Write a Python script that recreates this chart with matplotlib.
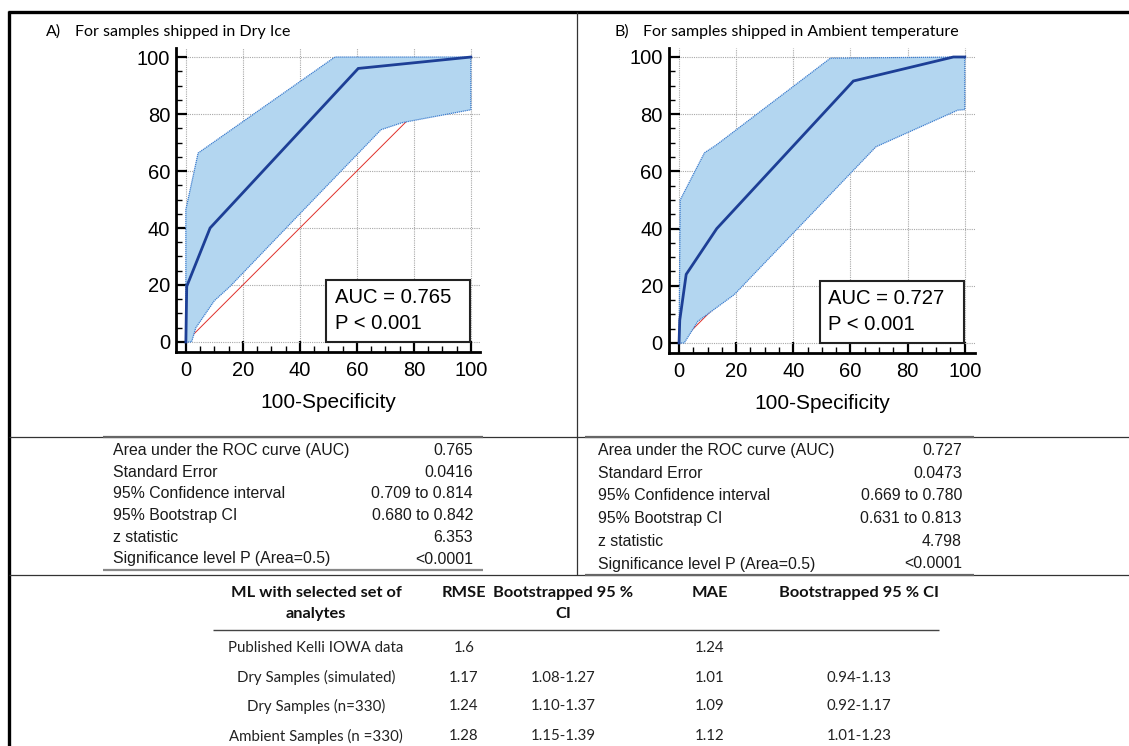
import matplotlib
matplotlib.use("Agg")
import matplotlib.pyplot as plt
from matplotlib.lines import Line2D
from matplotlib.patches import Rectangle
import numpy as np

W, H = 1129, 746

# ---------------- data ----------------
roc_a_x = [0, 0.3, 8.5, 60.5, 100]
roc_a_y = [0, 19.5, 40, 96, 100]
upper_a_x = [0, 0, 4.3, 11, 52.3, 100]
upper_a_y = [0, 46.5, 66.3, 71, 100, 100]
lower_a_x = [0, 2, 3.5, 10, 15.3, 40, 68.5, 76, 100, 100]
lower_a_y = [0, 0, 5, 14.5, 19.3, 45, 74.5, 77, 81.5, 100]

roc_b_x = [0, 0.25, 2.5, 13.2, 61, 96, 100]
roc_b_y = [0, 8, 24, 40, 91.6, 100, 100]
upper_b_x = [0, 0.4, 8.9, 13, 53, 100]
upper_b_y = [0, 50, 66.5, 69.2, 99.6, 100]
lower_b_x = [0, 1.8, 6.6, 19.3, 68.9, 97.5, 100, 100]
lower_b_y = [0, 0, 7.6, 16.9, 68.6, 81.4, 81.6, 100]

auc_a = "0.765"
auc_b = "0.727"
p_text = "P < 0.001"
titles = ["For samples shipped in Dry Ice", "For samples shipped in Ambient temperature"]
panel_tags = ["A)", "B)"]

stat_labels = ["Area under the ROC curve (AUC)", "Standard Error", "95% Confidence interval",
               "95% Bootstrap CI", "z statistic", "Significance level P (Area=0.5)"]
stat_vals_a = ["0.765", "0.0416", "0.709 to 0.814", "0.680 to 0.842", "6.353", "<0.0001"]
stat_vals_b = ["0.727", "0.0473", "0.669 to 0.780", "0.631 to 0.813", "4.798", "<0.0001"]

tbl_header = ["ML with selected set of\nanalytes", "RMSE", "Bootstrapped 95 %\nCI", "MAE", "Bootstrapped 95 % CI"]
tbl_rows = ["Published Kelli IOWA data", "Dry Samples (simulated)", "Dry Samples (n=330)", "Ambient Samples (n =330)"]
tbl_rmse = ["1.6", "1.17", "1.24", "1.28"]
tbl_rmse_ci = ["", "1.08-1.27", "1.10-1.37", "1.15-1.39"]
tbl_mae = ["1.24", "1.01", "1.09", "1.12"]
tbl_mae_ci = ["", "0.94-1.13", "0.92-1.17", "1.01-1.23"]

# ---------------- styles ----------------
FILL = "#b3d6f0"
EDGE = "#3f7fcf"
ROC = "#1d3f96"
DIAG = "#e0302a"
SANS = "Liberation Sans"
CAL = "Lato"

fig = plt.figure(figsize=(W / 100, H / 100), dpi=100)
fig.patch.set_facecolor("white")


def fx(x):
    return x / W


def fy(y):
    return 1 - y / H


def hline(y, x0, x1, lw=1.0, color="black"):
    fig.add_artist(Line2D([fx(x0), fx(x1)], [fy(y), fy(y)], lw=lw, color=color,
                          transform=fig.transFigure, solid_capstyle="butt"))


def vline(x, y0, y1, lw=1.0, color="black"):
    fig.add_artist(Line2D([fx(x), fx(x)], [fy(y0), fy(y1)], lw=lw, color=color,
                          transform=fig.transFigure, solid_capstyle="butt"))


def txt(x, y, s, **kw):
    fig.text(fx(x), fy(y), s, transform=fig.transFigure, **kw)


def roc_panel(rect, xlim, ylim, rx, ry, ux, uy, lx, ly, auc):
    ax = fig.add_axes(rect)
    ax.set_xlim(*xlim)
    ax.set_ylim(*ylim)
    for s in ["top", "right"]:
        ax.spines[s].set_visible(False)
    for s in ["left", "bottom"]:
        ax.spines[s].set_linewidth(2.0)
    ax.set_xticks(np.arange(0, 101, 20))
    ax.set_yticks(np.arange(0, 101, 20))
    ax.set_xticks(np.arange(0, 101, 5), minor=True)
    ax.set_yticks(np.arange(0, 101, 5), minor=True)
    ax.tick_params(which="major", direction="in", length=8, width=1.6, labelsize=14.5)
    ax.tick_params(axis="y", which="major", pad=4.5)
    ax.tick_params(axis="x", which="major", pad=7)
    ax.tick_params(which="minor", direction="in", length=4, width=1.0)
    for lab in ax.get_xticklabels() + ax.get_yticklabels():
        lab.set_fontfamily(SANS)
    ax.grid(True, which="major", color="#a8a8a8", linestyle=(0, (1, 1)), linewidth=0.8)
    ax.set_axisbelow(True)
    # diagonal reference line under the band
    ax.plot([0, 100], [0, 100], color=DIAG, lw=0.7, zorder=2)
    px = list(ux) + list(lx[::-1])
    py = list(uy) + list(ly[::-1])
    ax.fill(px, py, facecolor=FILL, edgecolor="none", zorder=3)
    ax.plot(ux, uy, color=EDGE, lw=0.9, ls=(0, (1, 0.6)), zorder=4)
    ax.plot(lx, ly, color=EDGE, lw=0.9, ls=(0, (1, 0.6)), zorder=4)
    ax.plot(rx, ry, color=ROC, lw=2.0, zorder=5, solid_joinstyle="miter")
    ax.set_xlabel("100-Specificity", fontsize=15, fontfamily=SANS, labelpad=9)
    ax.add_patch(Rectangle((49.2, 0.1), 50.6, 21.7, facecolor="white", edgecolor="#222222",
                           lw=1.5, zorder=6))
    ax.text(52.2, 15.5, "AUC = " + auc, fontsize=14.6, fontfamily=SANS, va="center", ha="left", zorder=7)
    ax.text(52.2, 6.6, p_text, fontsize=14.6, fontfamily=SANS, va="center", ha="left", zorder=7)
    return ax


roc_panel([0.1563, 0.5286, 0.2688, 0.4064], (-3.3, 103.2), (-3.4, 103.0),
          roc_a_x, roc_a_y, upper_a_x, upper_a_y, lower_a_x, lower_a_y, auc_a)
roc_panel([0.5926, 0.5272, 0.2708, 0.4079], (-3.5, 103.5), (-3.4, 103.0),
          roc_b_x, roc_b_y, upper_b_x, upper_b_y, lower_b_x, lower_b_y, auc_b)

# titles
txt(46, 32, panel_tags[0], fontsize=11.5, fontfamily=CAL, va="center")
txt(75, 32, titles[0], fontsize=11.5, fontfamily=CAL, va="center")
txt(614, 32, panel_tags[1], fontsize=11.5, fontfamily=CAL, va="center")
txt(643, 32, titles[1], fontsize=11.5, fontfamily=CAL, va="center")

# frame lines
hline(12, 8, W, lw=2.4)
vline(9, 11, H, lw=2.4)
vline(576.5, 12, 575, lw=0.9, color="#333333")
hline(437, 9, W, lw=0.9, color="#333333")
hline(575, 9, W, lw=0.9, color="#333333")

# stats tables
hline(437, 103, 483, lw=1.6, color="#666666")
hline(569.5, 103, 483, lw=1.6, color="#888888")
hline(437, 585, 974, lw=1.6, color="#666666")
hline(574.5, 585, 974, lw=1.6, color="#666666")
rows_a = [450.7, 472.3, 494, 515.7, 537.3, 559]
rows_b = [450.7, 473.3, 496, 518.7, 541.3, 564]
for i, lab in enumerate(stat_labels):
    txt(113, rows_a[i], lab, fontsize=11.4, fontfamily=SANS, va="center", ha="left", color="#1a1a1a")
    txt(473, rows_a[i], stat_vals_a[i], fontsize=11.4, fontfamily=SANS, va="center", ha="right", color="#1a1a1a")
    txt(597.5, rows_b[i], lab, fontsize=11.4, fontfamily=SANS, va="center", ha="left", color="#1a1a1a")
    txt(962, rows_b[i], stat_vals_b[i], fontsize=11.4, fontfamily=SANS, va="center", ha="right", color="#1a1a1a")

# bottom table
col_x = [316, 464, 563.5, 710, 859]
for cx, h in zip(col_x, tbl_header):
    lines = h.split("\n")
    for k, ln in enumerate(lines):
        txt(cx, 593 + k * 21, ln, fontsize=11.8, fontfamily=CAL, fontweight="bold",
            va="center", ha="center", color="#111111")
hline(630, 213, 939, lw=1.0, color="#444444")
row_y = [647.5, 677.5, 706.5, 736.5]
for i in range(len(tbl_rows)):
    vals = [tbl_rows[i], tbl_rmse[i], tbl_rmse_ci[i], tbl_mae[i], tbl_mae_ci[i]]
    for cx, v in zip(col_x, vals):
        if v:
            txt(cx, row_y[i], v, fontsize=10.8, fontfamily=CAL, va="center", ha="center", color="#222222")

fig.savefig("out.png", dpi=100, facecolor="white")
